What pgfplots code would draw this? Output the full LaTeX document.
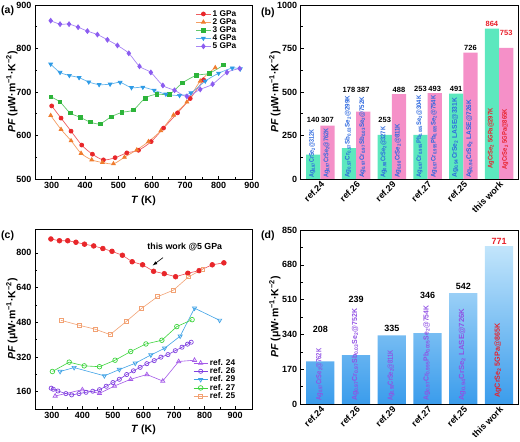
\documentclass[border=0pt]{standalone}
\usepackage{fontspec}
\setmainfont{Liberation Sans}
\usepackage{graphicx}
\usepackage{pgfplots}
\pgfplotsset{compat=1.18}
\definecolor{cA1}{HTML}{E8262A}
\definecolor{cA2}{HTML}{F07C2E}
\definecolor{cA3}{HTML}{2DB43A}
\definecolor{cA4}{HTML}{2E9BE6}
\definecolor{cA5}{HTML}{8B5CF0}
\definecolor{r24}{HTML}{A45AE8}
\definecolor{r26}{HTML}{8040E0}
\definecolor{r29}{HTML}{3FA2E6}
\definecolor{r27}{HTML}{3ED43E}
\definecolor{r25}{HTML}{F2A274}
\definecolor{mint}{HTML}{5CE8BE}
\definecolor{pinkb}{HTML}{F590C8}
\definecolor{txtblue}{HTML}{2A66DE}
\definecolor{txtpurp}{HTML}{9050E4}
\definecolor{txtred}{HTML}{E8202A}
\definecolor{barTop}{HTML}{C2E5FB}
\definecolor{barBot}{HTML}{3A9CEC}
\newcommand{\rb}[2]{\resizebox{#1pt}{4.8pt}{#2}}
\newcommand{\rd}[2]{\resizebox{#1pt}{5.3pt}{#2}}
\pgfplotsset{
  panel/.style={scale only axis, clip=false,
    axis line style={line width=0.8pt},
    tick style={black, line width=0.6pt},
    tick align=inside, xtick pos=bottom, ytick pos=left,
    major tick length=3pt, minor tick length=1.8pt,
    tick label style={font=\fontsize{9}{10}\selectfont\bfseries},
    label style={font=\fontsize{10.5}{12}\selectfont\bfseries},
    /pgf/number format/assume math mode=true,
    /pgf/number format/1000 sep={},
    ylabel={\textit{PF} (μW·m\textsuperscript{−1}·K\textsuperscript{−2})},
    legend cell align=left,
    legend image code/.code={\draw[mark repeat=2,mark phase=2] plot coordinates {(0pt,0pt) (7pt,0pt) (14pt,0pt)};},
  },
}
\tikzset{
  rot/.style={rotate=90, anchor=south west, inner sep=0pt, yshift=-2.4pt, font=\fontsize{7}{8}\selectfont\bfseries},
  val/.style={anchor=south, inner sep=0.5pt, font=\fontsize{7.5}{8}\selectfont\bfseries},
  plab/.style={anchor=west, font=\fontsize{10.5}{11}\selectfont\bfseries, inner sep=0pt},
}
\begin{document}
\begin{tikzpicture}
\path[use as bounding box] (0,0) rectangle (520pt,442pt);
\node[plab] at (1pt,431pt) {(a)};
\node[plab] at (261pt,429pt) {(b)};
\node[plab] at (1pt,206pt) {(c)};
\node[plab] at (261pt,206pt) {(d)};
% ---------------- (a)
\begin{axis}[panel, at={(35pt,263pt)}, anchor=south west, width=217pt, height=174pt,
  xmin=250, xmax=900, ymin=500, ymax=900,
  xtick={300,400,...,900}, ytick={500,600,...,900}, minor tick num=1,
  xlabel={\textit{T} (K)},
  xlabel style={at={(axis description cs:0.5,-0.125)}, anchor=center},
  ylabel style={at={(axis description cs:-0.106,0.5)}, anchor=center},
  legend style={draw=none, fill=none, at={(0.94,0.985)}, anchor=north east,
    font=\fontsize{8.3}{9}\selectfont\bfseries, row sep=-3.2pt, inner sep=0.5pt},
]
\addplot[draw=cA1!75, line width=0.7pt, smooth, mark=*, mark size=2pt, mark options={solid, fill=cA1, draw=cA1}] table {
300 668
328 640
358 610
390 578
422 557
455 544
490 549
525 560
560 566
598 586
635 617
677 652
715 685
755 728
};
\addlegendentry{1 GPa}
\addplot[draw=cA2!75, line width=0.7pt, smooth, mark=triangle*, mark size=2.2pt, mark options={solid, fill=cA2, draw=cA2}] table {
297 646
328 614
358 588
388 559
420 544
452 538
485 535
518 550
555 567
590 586
627 611
665 647
705 677
745 725
790 756
};
\addlegendentry{2 GPa}
\addplot[draw=cA3!75, line width=0.7pt, smooth, mark=square*, mark size=1.8pt, mark options={solid, fill=cA3, draw=cA3}] table {
297 689
325 677
355 652
385 642
415 631
445 627
478 643
510 653
545 659
580 686
615 695
653 695
692 721
733 738
772 743
815 762
};
\addlegendentry{3 GPa}
\addplot[draw=cA4!75, line width=0.7pt, smooth, mark=triangle*, mark size=2.2pt, mark options={solid, fill=cA4, draw=cA4, rotate=180}] table {
297 764
325 745
353 738
382 733
411 723
442 717
475 718
505 722
539 710
573 711
607 704
642 695
683 692
717 698
760 725
800 743
841 755
865 753
};
\addlegendentry{4 GPa}
\addplot[draw=cA5!75, line width=0.7pt, smooth, mark=diamond*, mark size=2.4pt, mark options={solid, fill=cA5, draw=cA5}] table {
297 864
325 856
352 856
379 849
407 840
437 832
467 820
497 807
531 789
563 759
597 745
633 715
668 704
705 690
745 706
782 718
825 745
863 754
};
\addlegendentry{5 GPa}
\end{axis}
% ---------------- (b)
\begin{axis}[panel, at={(300.7pt,263pt)}, anchor=south west, width=218pt, height=174pt,
  xmin=-0.55, xmax=5.55, ymin=0, ymax=1000,
  ytick={0,250,...,1000}, minor y tick num=1,
  xtick={0,...,5}, xticklabels={ref.24,ref.26,ref.29,ref.27,ref.25,this work},
  x tick label style={rotate=45, anchor=north east, inner sep=1pt},
  xtick style={draw=none},
  ylabel style={at={(axis description cs:-0.118,0.5)}, anchor=center},
]
\addplot[ybar, bar width=0.4, bar shift=0pt, fill=mint, draw=none] coordinates {(-0.2,140)(0.8,178)(1.8,253)(2.8,253)(3.8,491)(4.8,864)};
\addplot[ybar, bar width=0.4, bar shift=0pt, fill=pinkb, draw=none] coordinates {(0.2,307)(1.2,387)(2.2,488)(3.2,493)(4.2,726)(5.2,753)};
\node[rot, text=txtblue] at (axis cs:-0.2,6) {\rb{48}{Ag\textsubscript{0.97}CrSe\textsubscript{2}@312K}};
\node[rot, text=txtblue] at (axis cs:0.2,6) {\rb{49}{Ag\textsubscript{0.97}CrSe\textsubscript{2}@762K}};
\node[rot, text=txtblue] at (axis cs:0.8,6) {\rb{82}{Ag\textsubscript{0.97}Cr\textsubscript{0.97}Sb\textsubscript{0.03}Se\textsubscript{2}@299K}};
\node[rot, text=txtblue] at (axis cs:1.2,6) {\rb{81}{Ag\textsubscript{0.97}Cr\textsubscript{0.97}Sb\textsubscript{0.03}Se\textsubscript{2}@752K}};
\node[rot, text=txtblue] at (axis cs:1.8,6) {\rb{51}{Ag\textsubscript{0.98}CrSe\textsubscript{2}@327K}};
\node[rot, text=txtblue] at (axis cs:2.2,6) {\rb{54}{Ag\textsubscript{0.98}CrSe\textsubscript{2}@811K}};
\node[rot, text=txtblue] at (axis cs:2.8,6) {\rb{82}{Ag\textsubscript{0.97}Cr\textsubscript{0.995}Pb\textsubscript{0.005}Se\textsubscript{2}@304K}};
\node[rot, text=txtblue] at (axis cs:3.2,6) {\rb{82}{Ag\textsubscript{0.97}Cr\textsubscript{0.995}Pb\textsubscript{0.005}Se\textsubscript{2}@754K}};
\node[rot, text=txtblue] at (axis cs:3.8,6) {\rb{80}{Ag\textsubscript{0.94}CrSe\textsubscript{2} LASE@331K}};
\node[rot, text=txtblue] at (axis cs:4.2,6) {\rb{78}{Ag\textsubscript{0.94}CrSe\textsubscript{2} LASE@726K}};
\node[rot, text=txtred] at (axis cs:4.8,60) {\rb{60}{AgCrSe\textsubscript{2} 5GPa@297K}};
\node[rot, text=txtred] at (axis cs:5.2,55) {\rb{60}{AgCrSe\textsubscript{2} 5GPa@865K}};
\node[val] at (axis cs:-0.2,318) {140};
\node[val] at (axis cs:0.2,318) {307};
\node[val] at (axis cs:0.8,490) {178};
\node[val] at (axis cs:1.2,490) {387};
\node[val] at (axis cs:1.8,318) {253};
\node[val] at (axis cs:2.2,494) {488};
\node[val] at (axis cs:2.8,500) {253};
\node[val] at (axis cs:3.2,500) {493};
\node[val] at (axis cs:3.8,496) {491};
\node[val] at (axis cs:4.2,732) {726};
\node[val, text=txtred] at (axis cs:4.8,872) {864};
\node[val, text=txtred] at (axis cs:5.2,822) {753};
\end{axis}
% ---------------- (c)
\begin{axis}[panel, at={(35pt,33pt)}, anchor=south west, width=217pt, height=180pt,
  xmin=245, xmax=955, ymin=80, ymax=910,
  xtick={300,400,...,900}, ytick={160,320,...,800}, minor tick num=1,
  xlabel={\textit{T} (K)},
  xlabel style={at={(axis description cs:0.5,-0.117)}, anchor=center},
  ylabel style={at={(axis description cs:-0.106,0.5)}, anchor=center},
  legend style={draw=none, fill=none, at={(0.935,0.035)}, anchor=south east,
    font=\fontsize{8.3}{9}\selectfont\bfseries, row sep=-3.2pt, inner sep=0.5pt},
]
\addplot[forget plot, draw=cA1!80, line width=0.6pt, mark=*, mark size=2.4pt, mark options={solid, fill=cA1, draw=cA1}] table {
297 864
325 856
352 856
379 849
407 840
437 832
467 820
497 807
531 789
563 759
597 745
633 715
668 704
705 690
745 706
782 718
825 745
863 754
};
\addplot[draw=r24, line width=0.6pt, mark=triangle, mark size=2.4pt, mark options={solid, draw=r24, line width=0.7pt}] table {
311 140
400 169
456 152
505 186
558 217
611 239
663 209
715 299
767 305
};
\addlegendentry{ref. 24}
\addplot[draw=r26, line width=0.6pt, mark=o, mark size=2.1pt, mark options={solid, draw=r26, line width=0.7pt}] table {
298 176
305 171
320 163
346 151
365 145
389 151
412 157
434 162
456 169
478 185
500 202
521 217
545 239
567 256
589 272
611 289
635 303
657 319
680 331
704 349
726 365
744 379
756 388
};
\addlegendentry{ref. 26}
\addplot[draw=r29, line width=0.6pt, mark=triangle, mark size=2.4pt, mark options={solid, draw=r29, line width=0.7pt, rotate=180}] table {
327 253
373 271
472 233
521 262
573 291
624 329
669 360
720 416
767 545
849 489
};
\addlegendentry{ref. 29}
\addplot[draw=r27, line width=0.6pt, mark=o, mark size=2.3pt, mark options={solid, draw=r27, line width=0.7pt}] table {
302 253
357 296
406 279
456 275
507 305
558 345
608 380
660 397
709 460
759 492
};
\addlegendentry{ref. 27}
\addplot[draw=r25, line width=0.6pt, mark=square, mark size=1.9pt, mark options={solid, draw=r25, line width=0.7pt}] table {
330 489
390 466
442 448
491 423
543 483
593 543
646 598
698 628
747 689
794 725
};
\addlegendentry{ref. 25}
\draw[-latex, line width=0.6pt] (axis cs:664,778) -- (axis cs:630,742);
\node[font=\fontsize{8.8}{9}\selectfont\bfseries] at (axis cs:735,826) {this work @5 GPa};
\end{axis}
% ---------------- (d)
\begin{axis}[panel, at={(300.7pt,38pt)}, anchor=south west, width=218pt, height=174pt,
  xmin=-0.55, xmax=5.55, ymin=0, ymax=850,
  ytick={0,170,...,850}, minor y tick num=1,
  xtick={0,...,5}, xticklabels={ref.24,ref.26,ref.29,ref.27,ref.25,this work},
  x tick label style={rotate=45, anchor=north east, inner sep=1pt},
  xtick style={draw=none},
  ylabel style={at={(axis description cs:-0.118,0.5)}, anchor=center},
]
\addplot[ybar, bar width=0.79, bar shift=0pt, draw=none, top color=barTop, bottom color=barBot] coordinates {(0,208)(1,239)(2,335)(3,346)(4,542)(5,771)};
\node[rot, text=txtpurp, yshift=-0.3pt] at (axis cs:0,15) {\rd{52}{Ag\textsubscript{0.97}CrSe\textsubscript{2}@762K}};
\node[rot, text=txtpurp, yshift=-0.3pt] at (axis cs:1,15) {\rd{92}{Ag\textsubscript{0.97}Cr\textsubscript{0.97}Sb\textsubscript{0.03}Se\textsubscript{2}@752K}};
\node[rot, text=txtpurp, yshift=-0.3pt] at (axis cs:2,15) {\rd{50}{Ag\textsubscript{0.98}CrSe\textsubscript{2}@811K}};
\node[rot, text=txtpurp, yshift=-0.3pt] at (axis cs:3,15) {\rd{95}{Ag\textsubscript{0.97}Cr\textsubscript{0.995}Pb\textsubscript{0.005}Se\textsubscript{2}@754K}};
\node[rot, text=txtpurp, yshift=-0.3pt] at (axis cs:4,15) {\rd{92}{Ag\textsubscript{0.94}CrSe\textsubscript{2} LASE@726K}};
\node[rot, text=txtred, yshift=-0.3pt] at (axis cs:5,30) {\rd{74}{AgCrSe\textsubscript{2} 5GPa@865K}};
\node[val, font=\fontsize{9}{10}\selectfont\bfseries] at (axis cs:0,345) {208};
\node[val, font=\fontsize{9}{10}\selectfont\bfseries] at (axis cs:1,490) {239};
\node[val, font=\fontsize{9}{10}\selectfont\bfseries] at (axis cs:2,348) {335};
\node[val, font=\fontsize{9}{10}\selectfont\bfseries] at (axis cs:3,510) {346};
\node[val, font=\fontsize{9}{10}\selectfont\bfseries] at (axis cs:4,555) {542};
\node[val, font=\fontsize{9}{10}\selectfont\bfseries, text=txtred] at (axis cs:5,776) {771};
\end{axis}
\end{tikzpicture}
\end{document}
